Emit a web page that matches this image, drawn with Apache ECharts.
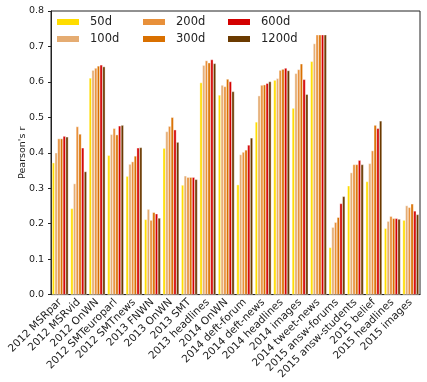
<!DOCTYPE html>
<html>
<head>
<meta charset="utf-8">
<script src="https://cdn.jsdelivr.net/npm/echarts@6/dist/echarts.min.js"></script>
<style>
  html, body { margin: 0; padding: 0; background: #fff; }
  #chart { width: 427px; height: 382px; }
</style>
</head>
<body>
<div id="chart"></div>
<script>
// categories (STS datasets)
const categories = [
  '2012 MSRpar', '2012 MSRvid', '2012 OnWN', '2012 SMTeuroparl', '2012 SMTnews',
  '2013 FNWN', '2013 OnWN', '2013 SMT', '2013 headlines', '2014 OnWN',
  '2014 deft-forum', '2014 deft-news', '2014 headlines', '2014 images', '2014 tweet-news',
  '2015 answ-forums', '2015 answ-students', '2015 belief', '2015 headlines', '2015 images'
];

const seriesNames = ['50d', '100d', '200d', '300d', '600d', '1200d'];
const colors = ['#FFDD00', '#E5AC72', '#E8903A', '#D97000', '#D40000', '#6B3A00'];

const d50   = [0.372, 0.243, 0.611, 0.393, 0.334, 0.212, 0.413, 0.309, 0.598, 0.563, 0.310, 0.487, 0.605, 0.526, 0.658, 0.133, 0.307, 0.319, 0.187, 0.210];
const d100  = [0.400, 0.313, 0.633, 0.452, 0.368, 0.241, 0.460, 0.335, 0.647, 0.591, 0.395, 0.561, 0.610, 0.624, 0.708, 0.190, 0.344, 0.370, 0.207, 0.251];
const d200  = [0.440, 0.474, 0.639, 0.469, 0.375, 0.210, 0.475, 0.331, 0.660, 0.587, 0.402, 0.591, 0.633, 0.635, 0.733, 0.204, 0.367, 0.406, 0.221, 0.246];
const d300  = [0.440, 0.453, 0.645, 0.451, 0.391, 0.232, 0.500, 0.331, 0.654, 0.608, 0.408, 0.592, 0.636, 0.651, 0.733, 0.218, 0.367, 0.478, 0.215, 0.256];
const d600  = [0.447, 0.414, 0.648, 0.476, 0.414, 0.228, 0.465, 0.331, 0.663, 0.601, 0.422, 0.596, 0.639, 0.607, 0.733, 0.257, 0.379, 0.469, 0.215, 0.236];
const d1200 = [0.445, 0.347, 0.643, 0.478, 0.415, 0.216, 0.430, 0.325, 0.652, 0.573, 0.442, 0.601, 0.632, 0.565, 0.733, 0.277, 0.367, 0.490, 0.213, 0.226];

const seriesValues = [d50, d100, d200, d300, d600, d1200];

const chart = echarts.init(document.getElementById('chart'));

const textFont = 'DejaVu Sans';

// one legend per column so items run 50d/100d, 200d/300d, 600d/1200d
const legendCol = (names, left) => ({
  data: names,
  orient: 'vertical',
  left: left,
  top: 16,
  padding: 0,
  itemWidth: 24,
  itemHeight: 8,
  itemGap: 5,
  icon: 'rect',
  textStyle: { fontFamily: textFont, fontSize: 11.5, lineHeight: 12, color: '#222', padding: [0, 0, 0, 5] }
});

const option = {
  backgroundColor: '#fff',
  animation: false,
  legend: [
    legendCol(['50d', '100d'], 55),
    legendCol(['200d', '300d'], 141),
    legendCol(['600d', '1200d'], 226)
  ],
  grid: {
    left: 51, right: 7, top: 11, bottom: 85,
    show: true, borderColor: '#222', borderWidth: 1, backgroundColor: 'transparent'
  },
  xAxis: {
    type: 'category',
    data: categories,
    axisLine: { lineStyle: { color: '#222' } },
    axisTick: { alignWithLabel: true, length: 3, lineStyle: { color: '#222' } },
    axisLabel: {
      rotate: 45, interval: 0, margin: 6,
      fontFamily: textFont, fontSize: 10.5, color: '#222'
    }
  },
  yAxis: {
    type: 'value',
    min: 0, max: 0.8, interval: 0.1,
    name: "Pearson's r",
    nameLocation: 'middle',
    nameGap: 23,
    nameMoveOverlap: false,
    nameTextStyle: { fontFamily: textFont, fontSize: 9.5, color: '#222' },
    splitLine: { show: false },
    axisLine: { show: true, lineStyle: { color: '#222' } },
    axisTick: { show: true, length: 3, lineStyle: { color: '#222' } },
    axisLabel: {
      margin: 7, fontFamily: textFont, fontSize: 9.5, color: '#222',
      formatter: v => v.toFixed(1)
    }
  },
  series: seriesNames.map((name, i) => ({
    name: name,
    type: 'bar',
    data: seriesValues[i],
    barGap: '0%',
    barCategoryGap: '12%',
    itemStyle: { color: colors[i], borderColor: '#fff', borderWidth: 0.4 }
  }))
};

chart.setOption(option);
</script>
</body>
</html>
